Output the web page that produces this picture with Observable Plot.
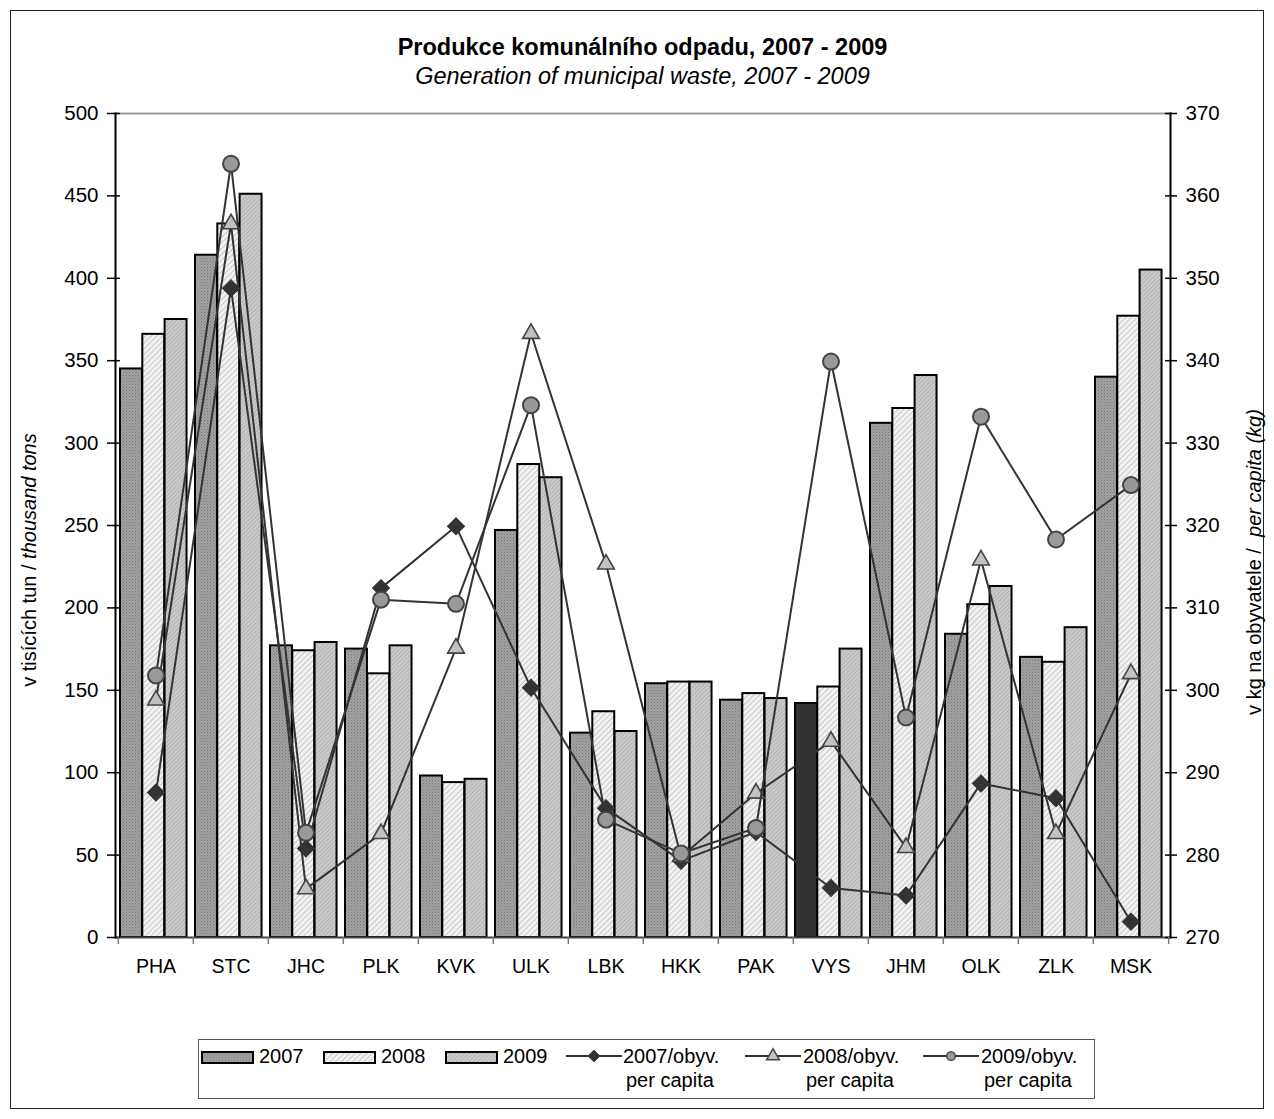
<!DOCTYPE html>
<html>
<head>
<meta charset="utf-8">
<script src="https://cdn.jsdelivr.net/npm/d3@7"></script>
<script src="https://cdn.jsdelivr.net/npm/@observablehq/plot@0.6"></script>
<style>
  html, body { margin: 0; padding: 0; background: #fff; }
  body { width: 1274px; height: 1119px; position: relative; font-family: "Liberation Sans", Arial, sans-serif; color: #000; overflow: hidden; }
  #frame { position: absolute; left: 10px; top: 10px; width: 1254px; height: 1099px; box-sizing: border-box; border: 1.5px solid #222; }
  #title { position: absolute; left: 0; width: 1285px; top: 33px; line-height: 28px; text-align: center; font-weight: bold; font-size: 23.5px; }
  #subtitle { position: absolute; left: 0; width: 1285px; top: 62px; line-height: 28px; text-align: center; font-style: italic; font-size: 23.5px; }
  #chart { position: absolute; left: 0; top: 0; }
  .ytitle { position: absolute; width: 400px; line-height: 24px; text-align: center; font-size: 20px; white-space: pre; transform: rotate(-90deg); transform-origin: 50% 50%; }
  #legend { position: absolute; left: 198px; top: 1039px; width: 897px; height: 60px; box-sizing: border-box; border: 1.5px solid #555; font-size: 20px; }
  .lg { position: absolute; }
  .lt { position: absolute; line-height: 24px; white-space: nowrap; }
</style>
</head>
<body>
<svg width="0" height="0" style="position:absolute">
  <defs>
    <pattern id="p2007" width="3" height="3" patternUnits="userSpaceOnUse">
      <rect width="3" height="3" fill="#a2a2a2"></rect>
      <rect x="0" y="0" width="1" height="1" fill="#767676"></rect>
      <rect x="1.5" y="1.5" width="1" height="1" fill="#868686"></rect>
    </pattern>
    <pattern id="p2008" width="4" height="4" patternUnits="userSpaceOnUse" patternTransform="rotate(45)">
      <rect width="4" height="4" fill="#f2f2f2"></rect>
      <rect x="0" y="0" width="1" height="4" fill="#c8c8c8"></rect>
    </pattern>
    <pattern id="p2009" width="3" height="3" patternUnits="userSpaceOnUse" patternTransform="rotate(45)">
      <rect width="3" height="3" fill="#cbcbcb"></rect>
      <rect x="0" y="0" width="1" height="3" fill="#b2b2b2"></rect>
    </pattern>
  </defs>
</svg>
<div id="frame"></div>
<div id="title">Produkce komunálního odpadu, 2007 - 2009</div>
<div id="subtitle">Generation of municipal waste, 2007 - 2009</div>
<div id="chart"></div>
<div class="ytitle" style="left:-171px; top:548px;">v tisících tun / <i>thousand tons</i></div>
<div class="ytitle" style="left:1054px; top:550px;">v kg na obyvatele /&nbsp; <i>per capita (kg)</i></div>
<div id="legend"></div>
<script>
// ---------- DATA ----------
const regions = ["PHA","STC","JHC","PLK","KVK","ULK","LBK","HKK","PAK","VYS","JHM","OLK","ZLK","MSK"];
const years = ["2007","2008","2009"];
const waste2007 = [345, 414, 177, 175, 98, 247, 124, 154, 144, 142, 312, 184, 170, 340];
const waste2008 = [366, 433, 174, 160, 94, 287, 137, 155, 148, 152, 321, 202, 167, 377];
const waste2009 = [375, 451, 179, 177, 96, 279, 125, 155, 145, 175, 341, 213, 188, 405];
const perCap2007 = [287.6, 348.8, 280.8, 312.4, 319.9, 300.3, 285.7, 279.3, 282.8, 276.0, 275.1, 288.7, 286.9, 271.9];
const perCap2008 = [298.8, 356.6, 275.9, 282.6, 305.1, 343.3, 315.3, 279.8, 287.5, 293.8, 280.9, 315.8, 282.6, 302.0];
const perCap2009 = [301.8, 363.9, 282.7, 311.0, 310.5, 334.6, 284.3, 280.2, 283.3, 339.9, 296.7, 333.2, 318.3, 324.9];
const highlighted = "VYS";
const leftTicks = d3.range(0, 501, 50);
const rightTicks = d3.range(270, 371, 10);

// ---------- LAYOUT ----------
const W = 1274, H = 1000;
const mL = 115, mR = 104, mT = 113, mB = 63;
const bw = (W - mL - mR) / regions.length;
const gapL = 2, barW = 22.3;

// right axis (kg per capita) mapped onto left scale (thousand tons)
const capToLeft = d3.scaleLinear([270, 370], [0, 500]);

const wasteData = [waste2007, waste2008, waste2009].map(arr => regions.map((r, i) => ({cat: r, v: arr[i]})));
const capData = [perCap2007, perCap2008, perCap2009].map(arr => regions.map((r, i) => ({cat: r, v: arr[i]})));

const barMarks = [];
years.forEach((yr, k) => {
  barMarks.push(Plot.barY(wasteData[k], {
    x: "cat", y: "v", fill: `url(#p${yr})`, stroke: "#000", strokeWidth: 2,
    insetLeft: gapL + k * barW, insetRight: bw - gapL - (k + 1) * barW
  }));
});
barMarks.push(Plot.barY(wasteData[0], {
  filter: d => d.cat === highlighted,
  x: "cat", y: "v", fill: "#333", stroke: "#000", strokeWidth: 2,
  insetLeft: gapL, insetRight: bw - gapL - barW
}));

const lineStyles = [
  {symbol: "square", r: 6.8, rotate: 45, fill: "#333", stroke: "#333", strokeWidth: 1},
  {symbol: "triangle", r: 6.2, fill: "#c2c2c2", stroke: "#444", strokeWidth: 1.6},
  {symbol: "circle", r: 8, fill: "#999", stroke: "#444", strokeWidth: 2}
];
const lineMarks = [];
capData.forEach((d, k) => {
  lineMarks.push(Plot.line(d, {x: "cat", y: p => capToLeft(p.v), stroke: "#333", strokeWidth: 2}));
  lineMarks.push(Plot.dot(d, {x: "cat", y: p => capToLeft(p.v), ...lineStyles[k]}));
});

const plot = Plot.plot({
  width: W, height: H,
  marginLeft: mL, marginRight: mR, marginTop: mT, marginBottom: mB,
  style: {background: "transparent", fontFamily: "Liberation Sans, Arial, sans-serif", fontSize: "20.5px", color: "#000", overflow: "visible"},
  x: {domain: regions, padding: 0},
  y: {domain: [0, 500]},
  marks: [
    ...barMarks,
    Plot.frame({anchor: "top", stroke: "#999", strokeWidth: 2}),
    Plot.ruleY([0], {stroke: "#444", strokeWidth: 2}),
    Plot.frame({anchor: "left", stroke: "#000", strokeWidth: 2}),
    Plot.frame({anchor: "right", stroke: "#000", strokeWidth: 2}),
    Plot.axisY(leftTicks, {anchor: "left", tickSize: 8, tickPadding: 9, label: null, strokeWidth: 1.5}),
    Plot.axisY(leftTicks, {anchor: "left", tickSize: -5, tickFormat: () => "", label: null, strokeWidth: 1.5}),
    Plot.axisY(rightTicks.map(capToLeft), {anchor: "right", tickSize: 6, tickPadding: 9, label: null, strokeWidth: 1.5, tickFormat: d => Math.round(capToLeft.invert(d))}),
    Plot.axisY(rightTicks.map(capToLeft), {anchor: "right", tickSize: -6, tickFormat: () => "", label: null, strokeWidth: 1.5}),
    Plot.axisX({anchor: "bottom", tickSize: 0, tickPadding: 22, label: null, fontSize: 19.5}),
    Plot.axisX(regions, {anchor: "bottom", tickSize: 7, dx: -bw / 2, tickFormat: () => "", label: null, stroke: "#777", strokeWidth: 1.5}),
    Plot.axisX(regions.slice(-1), {anchor: "bottom", tickSize: 7, dx: bw / 2, tickFormat: () => "", label: null, stroke: "#777", strokeWidth: 1.5}),
    ...lineMarks
  ]
});
document.getElementById("chart").appendChild(plot);

// ---------- LEGEND ----------
const legend = d3.select("#legend");
const L0x = 198, L0y = 1039;
const barItems = [
  {yr: "2007", sx: 200, tx: 258},
  {yr: "2008", sx: 322, tx: 380},
  {yr: "2009", sx: 444, tx: 502}
];
barItems.forEach(it => {
  const s = legend.append("svg").attr("class", "lg")
    .style("left", (it.sx - L0x) + "px").style("top", (1050 - L0y) + "px")
    .attr("width", 53).attr("height", 13);
  s.append("rect").attr("x", 1).attr("y", 1).attr("width", 51).attr("height", 11)
    .attr("fill", `url(#p${it.yr})`).attr("stroke", "#000").attr("stroke-width", 2);
  legend.append("div").attr("class", "lt")
    .style("left", (it.tx - L0x) + "px").style("top", (1043 - L0y) + "px").text(it.yr);
});
const lineItems = [
  {yr: "2007", sx: 565, tx: 622},
  {yr: "2008", sx: 744, tx: 802},
  {yr: "2009", sx: 922, tx: 980}
];
lineItems.forEach((it, k) => {
  const s = legend.append("svg").attr("class", "lg")
    .style("left", (it.sx - L0x) + "px").style("top", (1044 - L0y) + "px")
    .attr("width", 56).attr("height", 22);
  s.append("line").attr("x1", 0).attr("x2", 56).attr("y1", 11).attr("y2", 11)
    .attr("stroke", "#333").attr("stroke-width", 2);
  const st = lineStyles[k];
  const sym = k === 0 ? d3.symbolSquare : k === 1 ? d3.symbolTriangle : d3.symbolCircle;
  const size = k === 0 ? 64 : k === 1 ? 70 : 60;
  s.append("path").attr("d", d3.symbol(sym, size)())
    .attr("transform", `translate(28,11) rotate(${k === 0 ? 45 : 0})`)
    .attr("fill", st.fill).attr("stroke", st.stroke).attr("stroke-width", k === 0 ? 1 : 1.5);
  legend.append("div").attr("class", "lt")
    .style("left", (it.tx - L0x) + "px").style("top", (1043 - L0y) + "px").text(it.yr + "/obyv.");
  legend.append("div").attr("class", "lt")
    .style("left", (it.tx + 3 - L0x) + "px").style("top", (1067 - L0y) + "px").text("per capita");
});
</script>
</body>
</html>
